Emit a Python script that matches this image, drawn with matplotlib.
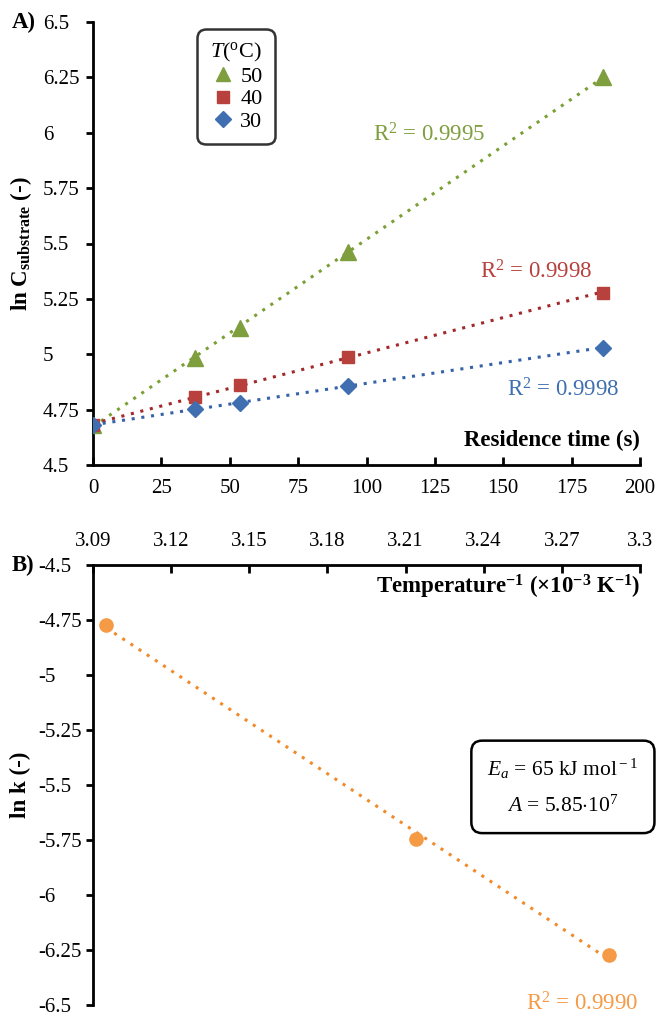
import numpy as np
import matplotlib
matplotlib.use("Agg")
import matplotlib.pyplot as plt
from matplotlib.lines import Line2D

plt.rcParams['font.family'] = ['Liberation Serif', 'DejaVu Serif']
plt.rcParams['mathtext.fontset'] = 'custom'
plt.rcParams['mathtext.rm'] = 'Liberation Serif'
plt.rcParams['mathtext.it'] = 'Liberation Serif:italic'
plt.rcParams['mathtext.bf'] = 'Liberation Serif:bold'

# ---------------- data ----------------
time_s = [0, 37.4, 53.6, 93.1, 186.4]
lnC_50 = [4.68, 4.985, 5.12, 5.463, 6.25]
lnC_40 = [4.68, 4.808, 4.861, 4.989, 5.278]
lnC_30 = [4.68, 4.753, 4.781, 4.857, 5.030]
r2_labels = ["R$^2$ = 0.9995", "R$^2$ = 0.9998", "R$^2$ = 0.9998"]
temps = ["50", "40", "30"]

invT = [3.095, 3.214, 3.288]
lnk = [-4.773, -5.745, -6.273]
r2_arr = "R$^2$ = 0.9990"

xticksA = [0, 25, 50, 75, 100, 125, 150, 175, 200]
yticksA = [4.5, 4.75, 5, 5.25, 5.5, 5.75, 6, 6.25, 6.5]
yticklabelsA = ["4.5", "4.75", "5", "5.25", "5.5", "5.75", "6", "6.25", "6.5"]
xticksB = [3.09, 3.12, 3.15, 3.18, 3.21, 3.24, 3.27, 3.3]
xticklabelsB = ["3.09", "3.12", "3.15", "3.18", "3.21", "3.24", "3.27", "3.3"]
yticksB = [-4.5, -4.75, -5, -5.25, -5.5, -5.75, -6, -6.25, -6.5]
yticklabelsB = ["-4.5", "-4.75", "-5", "-5.25", "-5.5", "-5.75", "-6", "-6.25", "-6.5"]

# ---------------- styles ----------------
c_green, c_green_l = "#7F9E3E", "#7AA035"
c_red, c_red_l = "#B8403D", "#A3282A"
c_blue, c_blue_l = "#3F6FB0", "#3562A8"
c_orange, c_orange_l = "#F59A45", "#F08A2A"
FS_T = 15      # tick labels
FS_L = 16.5    # axis labels / annotations
FS_LEG = 16

fig = plt.figure(figsize=(6.57, 10.17), dpi=100)
axA = fig.add_axes([93/657, 1-465/1017, 547/657, 443/1017])
axB = fig.add_axes([93/657, 1-1005/1017, 547/657, 440/1017])

# ---------------- Panel A ----------------
series = [(lnC_50, c_green, c_green_l, '^', 11),
          (lnC_40, c_red, c_red_l, 's', 9),
          (lnC_30, c_blue, c_blue_l, 'D', 8.5)]
handles = []
t = np.array(time_s)
for (vals, col, lcol, mk, ms), lab in zip(series, temps):
    p = np.polyfit(t, vals, 1)
    xx = np.array([0, t.max()])
    axA.plot(xx, np.polyval(p, xx), ls=(0, (1, 2.2)), lw=2.2, color=lcol, zorder=2)
    axA.plot(t, vals, ls='none', marker=mk, ms=ms, color=col, mec=col, zorder=3)
    handles.append(Line2D([], [], ls='none', marker=mk, ms=ms*0.9, color=col, label=lab))

axA.text(123, 5.99, r2_labels[0], color=c_green, fontsize=FS_L, ha='center', va='center')
axA.text(162, 5.37, r2_labels[1], color=c_red, fontsize=FS_L, ha='center', va='center')
axA.text(172, 4.84, r2_labels[2], color=c_blue, fontsize=FS_L, ha='center', va='center')

axA.set_xlim(0, 200)
axA.set_ylim(4.5, 6.5)
axA.set_xticks(xticksA)
axA.set_xticklabels([str(v) for v in xticksA])
axA.set_yticks(yticksA)
axA.set_yticklabels(yticklabelsA)
for s in ['top', 'right']:
    axA.spines[s].set_visible(False)
for s in ['left', 'bottom']:
    axA.spines[s].set_linewidth(2)
axA.tick_params(axis='x', direction='in', length=6, width=2, labelsize=FS_T, pad=10)
axA.tick_params(axis='y', direction='out', length=5, width=2, labelsize=FS_T, pad=31)
for lbl in axA.get_yticklabels():
    lbl.set_horizontalalignment('left')
axA.text(1.0, 0.055, "Residence time (s)", transform=axA.transAxes, ha='right',
         va='center', fontsize=FS_L, fontweight='bold')
axA.set_ylabel(r"ln C$_{\mathbf{substrate}}$ (-)", fontsize=FS_L, fontweight='bold',
               va='center')
axA.yaxis.set_label_coords(-0.132, 0.5)

leg = axA.legend(handles=handles, title=r"$T$($^{\rm o}$C)", loc='upper left',
                 bbox_to_anchor=(0.178, 1.0), fontsize=FS_LEG, title_fontsize=FS_LEG,
                 frameon=True, fancybox=True, edgecolor='black', handletextpad=0.2,
                 handlelength=1.2, borderpad=0.35, labelspacing=0.1)
leg.get_frame().set_linewidth(1.8)
leg.get_frame().set_boxstyle("round,pad=0.2,rounding_size=0.4")

fig.text(12/657, 1-22/1017, "A)", fontsize=FS_L, fontweight='bold', va='center', ha='left')

# ---------------- Panel B ----------------
x = np.array(invT)
p = np.polyfit(x, lnk, 1)
xx = np.array([x.min(), x.max()])
axB.plot(xx, np.polyval(p, xx), ls=(0, (1, 2.2)), lw=2.2, color=c_orange_l, zorder=2)
axB.plot(x, lnk, ls='none', marker='o', ms=9.5, color=c_orange, zorder=3)
axB.text(3.2777, -6.495, r2_arr, color=c_orange, fontsize=FS_L, ha='center', va='center',
         clip_on=False)

axB.set_xlim(3.09, 3.3)
axB.set_ylim(-6.5, -4.5)
axB.xaxis.tick_top()
axB.set_xticks(xticksB)
axB.set_xticklabels(xticklabelsB)
axB.set_yticks(yticksB)
axB.set_yticklabels(yticklabelsB)
for s in ['bottom', 'right']:
    axB.spines[s].set_visible(False)
for s in ['left', 'top']:
    axB.spines[s].set_linewidth(2)
axB.tick_params(axis='x', direction='in', length=6, width=2, labelsize=FS_T, pad=10)
axB.tick_params(axis='y', direction='out', length=5, width=2, labelsize=FS_T, pad=34.5)
for lbl in axB.get_yticklabels():
    lbl.set_horizontalalignment('left')
axB.text(1.0, 0.95, r"Temperature$^{\mathbf{-1}}$ ($\mathbf{\times}$10$^{\mathbf{-3}}$ K$^{\mathbf{-1}}$)",
         transform=axB.transAxes, ha='right', va='center', fontsize=FS_L, fontweight='bold')
axB.set_ylabel("ln k (-)", fontsize=FS_L, fontweight='bold', va='center')
axB.yaxis.set_label_coords(-0.132, 0.5)

axB.text(3.2704, -5.509, "$E_a$ = 65 kJ mol$^{\\rm -1}$\n$A$ = 5.85$\\cdot$10$^{7}$",
         fontsize=15.5, ha='center', va='center', linespacing=1.9,
         bbox=dict(boxstyle="round,pad=0.75,rounding_size=0.5", fc='white', ec='black', lw=1.8))

fig.text(12/657, 1-565/1017, "B)", fontsize=FS_L, fontweight='bold', va='center', ha='left')

fig.savefig("out.png", dpi=100)
